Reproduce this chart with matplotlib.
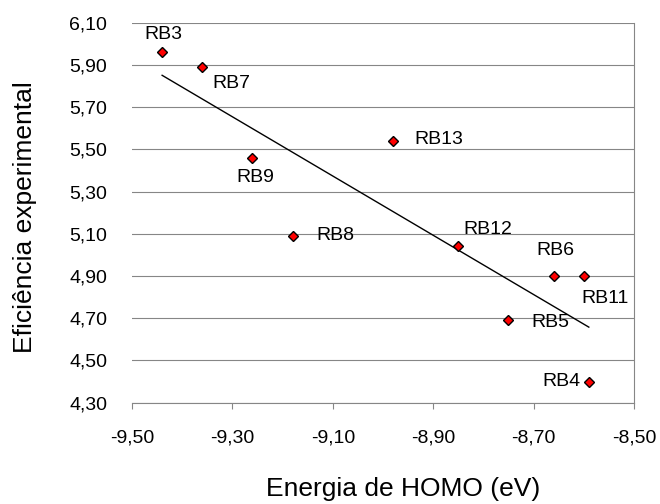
import matplotlib
matplotlib.use("Agg")
import matplotlib.pyplot as plt
import numpy as np
from matplotlib.ticker import FuncFormatter

plt.rcParams['font.family'] = ['Liberation Sans', 'DejaVu Sans']

# HOMO energy (eV) vs experimental efficiency for each compound
names = ["RB3", "RB7", "RB9", "RB8", "RB13", "RB12", "RB6", "RB11", "RB5", "RB4"]
homo = [-9.44, -9.36, -9.26, -9.18, -8.98, -8.85, -8.66, -8.60, -8.75, -8.59]
eff = [5.96, 5.89, 5.46, 5.09, 5.54, 5.04, 4.90, 4.90, 4.69, 4.40]

# label offsets in points (dx, dy)
offsets = [(1, 12.5), (21, -11.7), (2, -14), (30.5, 0), (33, 1.2),
           (21, 12.2), (1.4, 18.2), (15, -16.4), (30.5, -1.4), (-19.4, 0)]

x_ticks = np.arange(-9.5, -8.49, 0.2)
y_ticks = np.arange(4.3, 6.11, 0.2)

grey = "#868686"

fig = plt.figure(figsize=(6.6, 5.04), dpi=100)
ax = fig.add_axes([0.2, 0.201, 0.7606, 0.754])

ax.set_xlim(-9.5, -8.5)
ax.set_ylim(4.3, 6.1)
ax.set_xticks(x_ticks)
ax.set_yticks(y_ticks)
fmt = FuncFormatter(lambda v, p: f"{v:.2f}".replace(".", ","))
ax.xaxis.set_major_formatter(fmt)
ax.yaxis.set_major_formatter(fmt)

ax.grid(axis="y", color=grey, linewidth=0.8)
ax.set_axisbelow(True)
for side in ["left", "top"]:
    ax.spines[side].set_visible(False)
for side in ["bottom", "right"]:
    ax.spines[side].set_color(grey)
    ax.spines[side].set_linewidth(0.8)

ax.tick_params(axis="x", direction="out", length=4, width=0.8, color=grey,
               labelsize=14, pad=15)
ax.tick_params(axis="y", length=0, labelsize=14, pad=18)

# linear trend line over the data range
a, b = np.polyfit(homo, eff, 1)
xs = np.array([min(homo), max(homo)])
ax.plot(xs, a * xs + b, color="black", linewidth=1.0, zorder=2)

ax.plot(homo, eff, linestyle="none", marker="D", markersize=5.4,
        markerfacecolor="#ff0000", markeredgecolor="black",
        markeredgewidth=1.0, zorder=3)

for n, x, y, (dx, dy) in zip(names, homo, eff, offsets):
    ax.annotate(n, (x, y), xytext=(dx, dy), textcoords="offset points",
                ha="center", va="center", fontsize=14)

ax.set_ylabel("Eficiência experimental", fontsize=19)
ax.yaxis.set_label_coords(-0.19, 0.489)
fig.text(403 / 660, 1 - 489 / 504, "Energia de HOMO (eV)", fontsize=19,
         ha="center", va="center")

fig.savefig("out.png", dpi=100)
